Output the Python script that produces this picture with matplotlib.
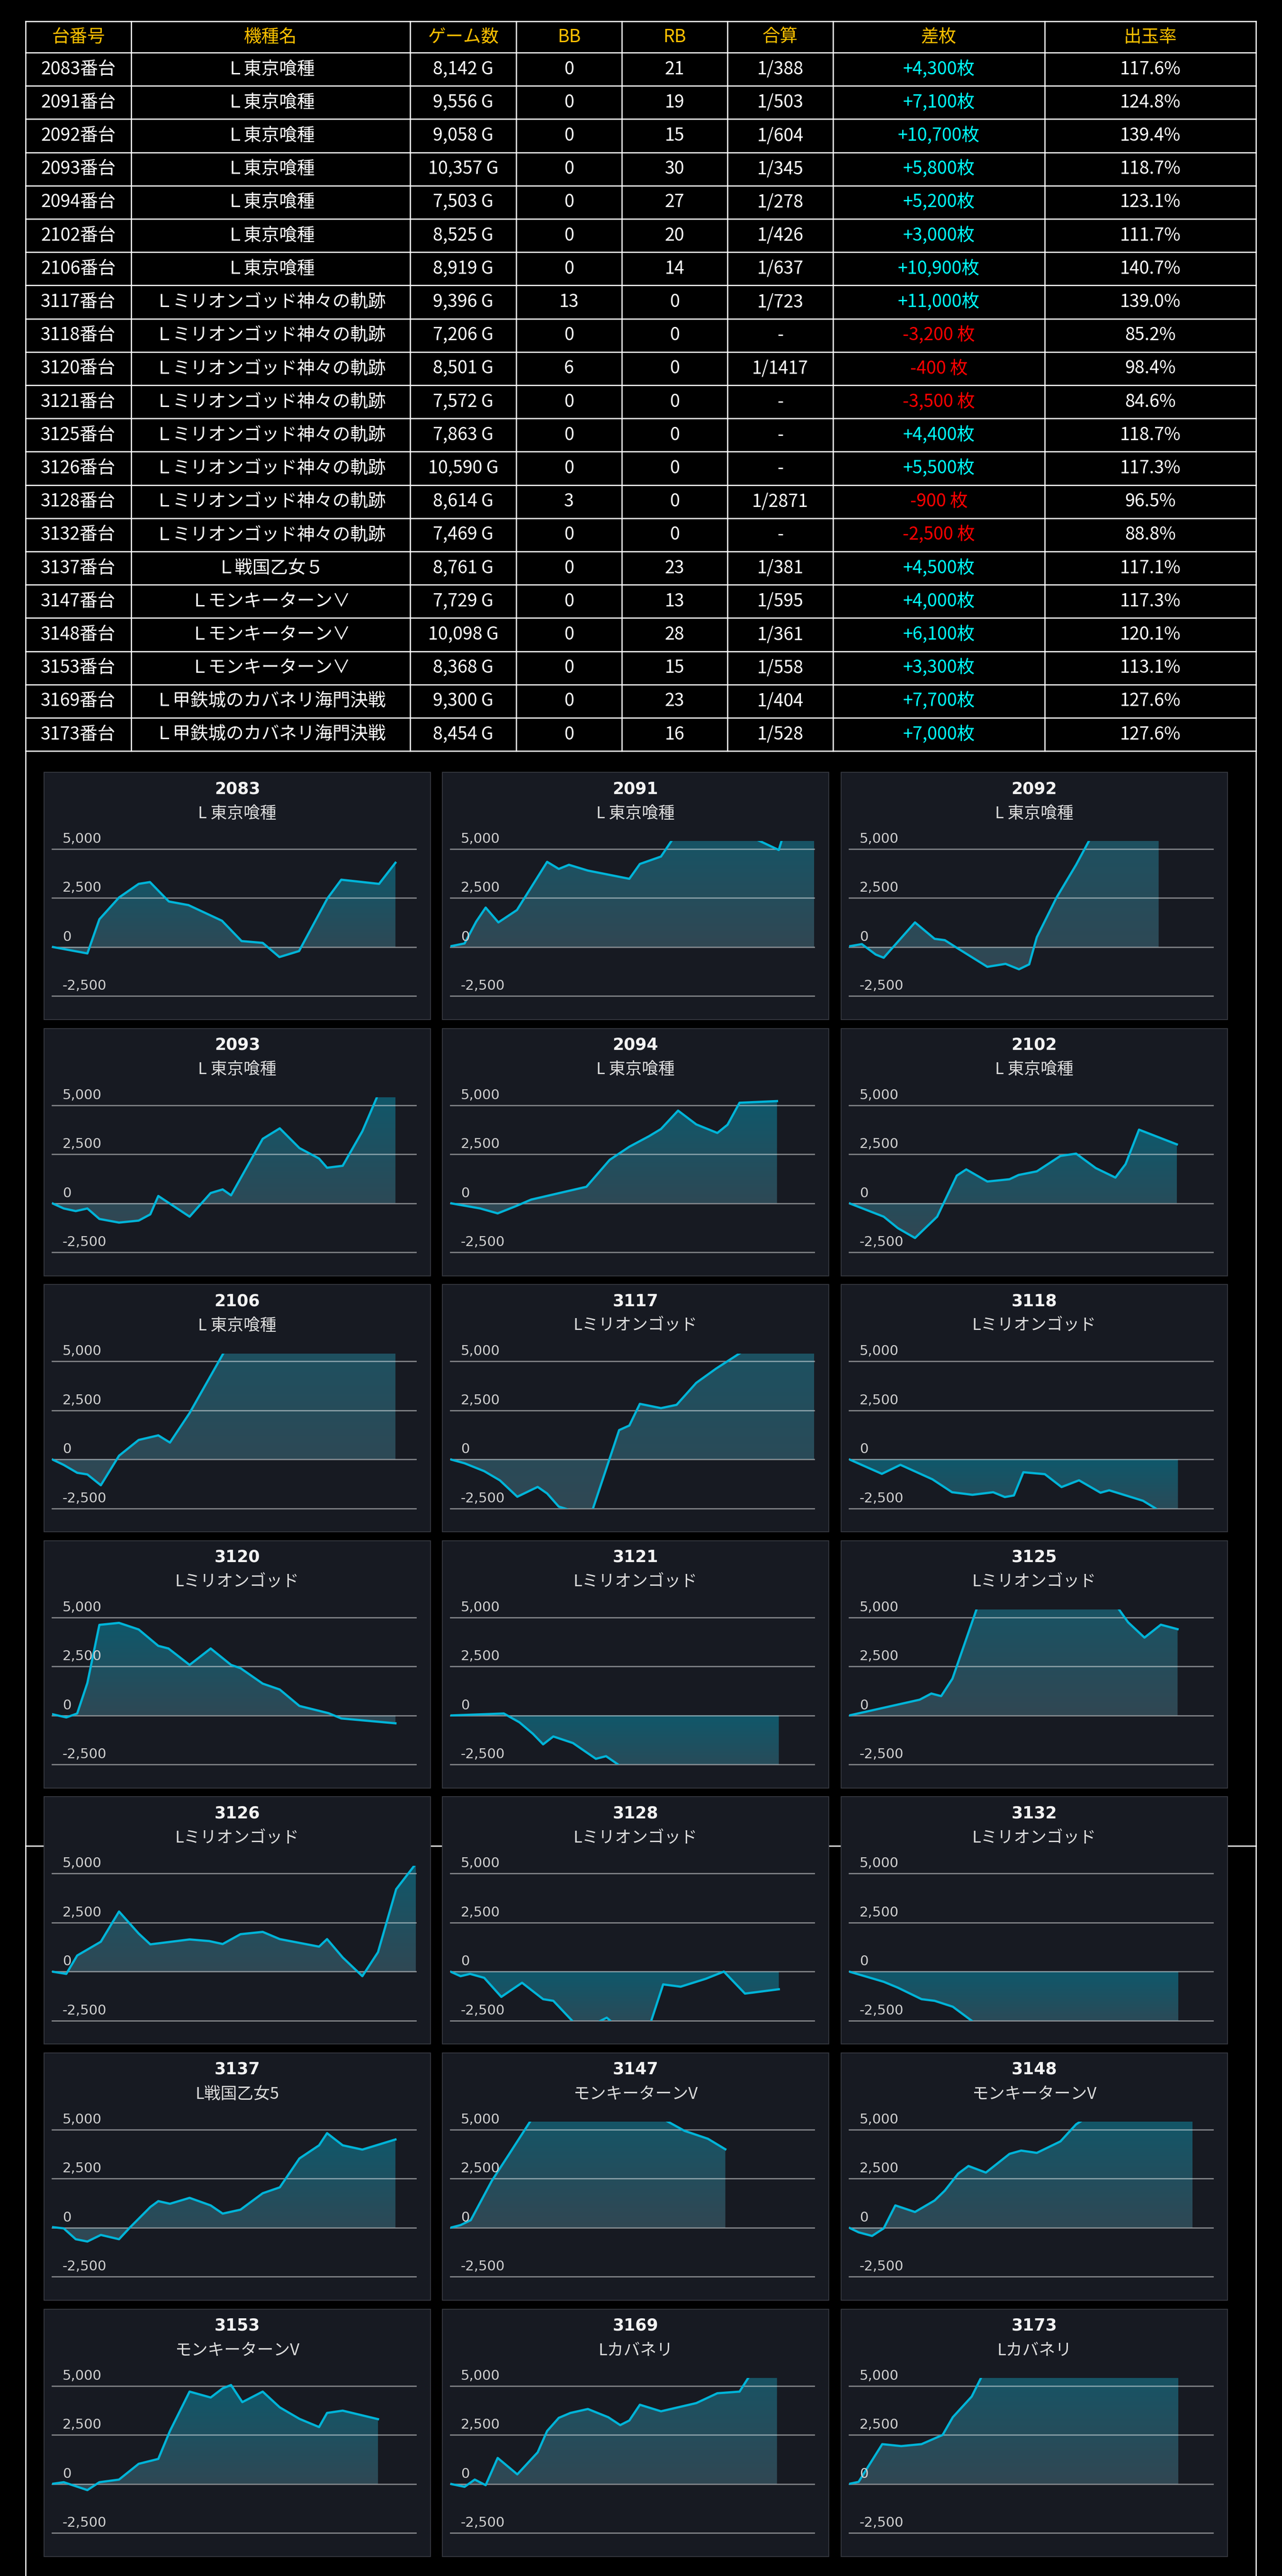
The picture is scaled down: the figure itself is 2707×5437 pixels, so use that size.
import numpy as np
import matplotlib
matplotlib.use('Agg')
import matplotlib.pyplot as plt
from matplotlib.patches import Rectangle, Polygon
from matplotlib.lines import Line2D
from matplotlib.colors import to_rgb

# ---- table data ----
unit_ids = [2083, 2091, 2092, 2093, 2094, 2102, 2106, 3117, 3118, 3120, 3121,
            3125, 3126, 3128, 3132, 3137, 3147, 3148, 3153, 3169, 3173]
machine_names = ['Ｌ東京喰種'] * 7 + ['Ｌミリオンゴッド神々の軌跡'] * 8 + \
                ['Ｌ戦国乙女５'] + ['Ｌモンキーターン∨'] * 3 + ['Ｌ甲鉄城のカバネリ海門決戦'] * 2
games = [8142, 9556, 9058, 10357, 7503, 8525, 8919, 9396, 7206, 8501, 7572,
         7863, 10590, 8614, 7469, 8761, 7729, 10098, 8368, 9300, 8454]
bb = [0, 0, 0, 0, 0, 0, 0, 13, 0, 6, 0, 0, 0, 3, 0, 0, 0, 0, 0, 0, 0]
rb = [21, 19, 15, 30, 27, 20, 14, 0, 0, 0, 0, 0, 0, 0, 0, 23, 13, 28, 15, 23, 16]
combined = ['1/388', '1/503', '1/604', '1/345', '1/278', '1/426', '1/637', '1/723', '-',
            '1/1417', '-', '-', '-', '1/2871', '-', '1/381', '1/595', '1/361', '1/558',
            '1/404', '1/528']
diff = [4300, 7100, 10700, 5800, 5200, 3000, 10900, 11000, -3200, -400, -3500,
        4400, 5500, -900, -2500, 4500, 4000, 6100, 3300, 7700, 7000]
payout = [117.6, 124.8, 139.4, 118.7, 123.1, 111.7, 140.7, 139.0, 85.2, 98.4, 84.6,
          118.7, 117.3, 96.5, 88.8, 117.1, 117.3, 120.1, 113.1, 127.6, 127.6]
headers = ['台番号', '機種名', 'ゲーム数', 'BB', 'RB', '合算', '差枚', '出玉率']

# ---- chart data (x = % of plot width, y = 差枚) ----
panel_names = ['L 東京喰種'] * 7 + ['Lミリオンゴッド'] * 8 + ['L戦国乙女5'] + \
              ['モンキーターンV'] * 3 + ['Lカバネリ'] * 2

x_2083 = [0, 9.7, 13.0, 18.4, 23.8, 26.9, 32.1, 37.5, 46.7, 52.1, 57.9, 62.5, 67.9, 75.7, 79.5, 89.9, 94.4]
y_2083 = [10, -324, 1417, 2528, 3222, 3315, 2324, 2139, 1343, 306, 213, -509, -204, 2482, 3435, 3222, 4300]
x_2091 = [0, 3.9, 7.1, 9.7, 13.2, 18.3, 26.6, 29.8, 32.6, 37.8, 49.2, 52.1, 57.9, 64, 84, 90.3, 92, 100]
y_2091 = [40, 185, 1300, 2013, 1258, 1888, 4346, 3985, 4195, 3901, 3481, 4237, 4615, 6300, 5500, 4950, 6000, 7100]
x_2092 = [0, 3.5, 7.3, 9.5, 18.1, 23.5, 26.3, 30.0, 38.0, 43.0, 46.7, 49.5, 51.6, 57.0, 62.4, 72, 85.1]
y_2092 = [40, 150, -380, -545, 1258, 420, 352, -84, -1007, -856, -1133, -881, 503, 2517, 4195, 7500, 10700]
x_2093 = [0, 3.2, 6.5, 9.7, 13.0, 18.4, 23.8, 27.0, 29.2, 37.8, 43.6, 46.9, 49.2, 57.9, 62.6, 68.0, 73.4,
          75.6, 79.9, 85.3, 90, 94.4]
y_2093 = [0, -268, -402, -268, -803, -988, -887, -569, 368, -686, 519, 703, 402, 3281, 3817, 2812, 2277,
          1808, 1908, 3666, 5700, 5800]
x_2094 = [0, 8.2, 13.0, 18.0, 22.2, 37.4, 43.8, 49.2, 54.6, 57.9, 62.6, 67.6, 73.4, 76.2, 79.5, 89.8]
y_2094 = [0, -268, -519, -151, 184, 837, 2210, 2879, 3415, 3783, 4721, 4018, 3582, 4001, 5122, 5206]
x_2102 = [0, 9.5, 13.4, 18.1, 24.2, 29.6, 32.2, 38.0, 44.1, 46.6, 51.6, 58.1, 62.4, 67.8, 73.2, 76.0, 79.7, 90.1]
y_2102 = [0, -686, -1272, -1774, -686, 1406, 1724, 1105, 1222, 1440, 1624, 2411, 2528, 1791, 1306, 1992, 3750, 3000]
x_2106 = [0, 3.2, 6.9, 9.7, 13.4, 18.4, 23.8, 29.2, 32.4, 37.8, 55, 94.4]
y_2106 = [0, -285, -686, -770, -1322, 184, 988, 1222, 854, 2360, 8000, 10900]
x_3117 = [0, 3.9, 9.3, 13.6, 18.4, 24.0, 26.6, 29.8, 38.5, 46.4, 49.2, 52.1, 57.9, 62.2, 67.6, 73.0, 85, 100]
y_3117 = [0, -201, -603, -1071, -1908, -1406, -1741, -2411, -2900, 1490, 1724, 2829, 2611, 2779, 3900, 4620,
          6060, 11000]
x_3118 = [0, 9.0, 14.1, 22.9, 28.3, 33.9, 39.6, 42.8, 45.3, 47.9, 53.8, 58.4, 63.2, 69.1, 71.5, 80.8, 90.4]
y_3118 = [0, -740, -280, -1019, -1677, -1808, -1677, -1923, -1841, -658, -756, -1414, -1069, -1702, -1578,
          -2113, -3200]
x_3120 = [0, 3.9, 6.9, 9.7, 13.0, 18.4, 23.8, 29.2, 32.0, 37.8, 43.6, 49.2, 51.8, 57.9, 62.6, 68.0, 76.0, 79.5, 94.4]
y_3120 = [67, -100, 100, 1657, 4620, 4721, 4386, 3549, 3415, 2578, 3415, 2578, 2411, 1624, 1322, 485, 117, -151, -400]
x_3121 = [0, 14.7, 19.0, 22.7, 25.5, 28.3, 33.7, 40.0, 42.8, 50, 90.3]
y_3121 = [0, 100, -352, -937, -1473, -1071, -1406, -2210, -2076, -3000, -3500]
x_3125 = [0, 19.4, 22.6, 25.3, 28.4, 38, 55, 70, 76.7, 81.2, 85.7, 90.3]
y_3125 = [0, 805, 1118, 986, 1874, 7000, 7800, 6500, 4751, 3970, 4628, 4400]
x_3126 = [0, 3.9, 6.9, 13.4, 18.4, 23.8, 27.0, 37.8, 43.2, 46.9, 51.8, 57.9, 62.6, 73.4, 75.6, 79.9, 85.3,
          89.6, 94.6, 100]
y_3126 = [0, -117, 820, 1523, 3063, 1942, 1389, 1640, 1557, 1406, 1908, 2025, 1657, 1272, 1657, 720, -234,
          988, 4202, 5500]
x_3128 = [0, 2.8, 5.4, 9.3, 14.0, 19.7, 25.5, 28.3, 36, 43, 47, 54, 58.5, 63.3, 70.2, 75.2, 81.0, 90.3]
y_3128 = [0, -234, -117, -318, -1289, -569, -1406, -1490, -3000, -2350, -3000, -3200, -653, -770, -368, 0,
          -1122, -900]
x_3132 = [0, 9.5, 13.4, 19.9, 23.5, 28.5, 38, 70, 90.5]
y_3132 = [0, -519, -820, -1406, -1490, -1791, -3100, -2900, -2560]
x_3137 = [0, 3.2, 6.5, 9.7, 13.4, 18.4, 21.6, 27.0, 29.2, 32.4, 37.8, 43.6, 46.9, 51.8, 57.9, 62.6, 68.0,
          73.4, 75.6, 79.9, 85.3, 94.4]
y_3137 = [33, -33, -586, -703, -368, -586, 50, 1055, 1356, 1222, 1523, 1138, 720, 921, 1758, 2059, 3532,
          4202, 4821, 4202, 3984, 4500]
x_3147 = [0, 2.8, 5.6, 11.4, 16.2, 25, 45, 56, 64.4, 70.8, 75.6]
y_3147 = [0, 134, 385, 2394, 3766, 6300, 6600, 5800, 4938, 4537, 4000]
x_3148 = [0, 2.6, 6.3, 9.5, 12.7, 18.1, 23.5, 26.3, 30.0, 32.8, 37.6, 44.1, 47.3, 51.6, 58.1, 62.4, 66, 80, 94.4]
y_3148 = [0, -234, -418, -33, 1138, 803, 1389, 1892, 2762, 3147, 2812, 3766, 3934, 3817, 4403, 5273, 5700,
          6200, 6100]
x_3153 = [0, 3.2, 9.7, 13.0, 18.4, 23.8, 29.2, 32.4, 37.8, 43.6, 46.9, 49.2, 52.3, 57.9, 62.6, 68.0, 73.4,
          75.6, 79.9, 89.6]
y_3153 = [0, 84, -318, 84, 218, 1021, 1272, 2695, 4704, 4403, 4871, 5039, 4168, 4704, 3900, 3315, 2896,
          3616, 3733, 3300]
x_3169 = [0, 3.9, 6.7, 9.7, 13.0, 18.4, 24.0, 26.6, 29.8, 33.0, 37.8, 43.4, 46.7, 49.2, 52.1, 57.9, 67.6,
          73.4, 79.5, 89.8]
y_3169 = [0, -151, 218, -67, 1322, 485, 1607, 2695, 3365, 3616, 3817, 3398, 2996, 3231, 4034, 3700, 4118,
          4620, 4704, 7700]
x_3173 = [0, 2.6, 9.1, 14.3, 19.9, 25.7, 28.5, 33.7, 40, 60, 90.5]
y_3173 = [0, 100, 2025, 1925, 2025, 2494, 3398, 4453, 6800, 7200, 7000]

series = [(x_2083, y_2083), (x_2091, y_2091), (x_2092, y_2092), (x_2093, y_2093), (x_2094, y_2094),
          (x_2102, y_2102), (x_2106, y_2106), (x_3117, y_3117), (x_3118, y_3118), (x_3120, y_3120),
          (x_3121, y_3121), (x_3125, y_3125), (x_3126, y_3126), (x_3128, y_3128), (x_3132, y_3132),
          (x_3137, y_3137), (x_3147, y_3147), (x_3148, y_3148), (x_3153, y_3153), (x_3169, y_3169),
          (x_3173, y_3173)]
grid_ticks = [5000, 2500, 0, -2500]

# ---- figure in pixel units ----
W, H = 2707, 5437
fig = plt.figure(figsize=(W / 100, H / 100), dpi=100, facecolor='black')
bg = fig.add_axes([0, 0, 1, 1])
bg.set_xlim(0, W)
bg.set_ylim(H, 0)
bg.axis('off')

JP = ['Noto Sans CJK JP', 'DejaVu Sans']
col_edges = [54, 277, 866, 1090, 1313, 1536, 1759, 2206, 2652]
tbl_top, head_bot, row_h = 45, 111, 70.2
n_rows = len(unit_ids)
row_edges = [tbl_top, head_bot] + [head_bot + row_h * (i + 1) for i in range(n_rows)]
tbl_bot = row_edges[-1]

line_kw = dict(color='white', lw=1.8, zorder=1, solid_capstyle='projecting')
for y in row_edges:
    bg.add_line(Line2D([col_edges[0], col_edges[-1]], [y, y], **line_kw))
for x in col_edges[1:-1]:
    bg.add_line(Line2D([x, x], [tbl_top, tbl_bot], **line_kw))
for x in (col_edges[0], col_edges[-1]):
    bg.add_line(Line2D([x, x], [tbl_top, H], **line_kw))
bg.add_line(Line2D([col_edges[0], col_edges[-1]], [3896, 3896], **line_kw))

cx = [(a + b) / 2 for a, b in zip(col_edges[:-1], col_edges[1:])]
for j, h in enumerate(headers):
    bg.text(cx[j], (tbl_top + head_bot) / 2, h, ha='center', va='center', fontsize=27,
            color='#ffc000', family=JP)
for i in range(n_rows):
    cy = head_bot + row_h * (i + 0.5)
    d = diff[i]
    dtxt = f'+{d:,}枚' if d > 0 else f'{d:,} 枚'
    cells = [f'{unit_ids[i]}番台', machine_names[i], f'{games[i]:,} G', str(bb[i]), str(rb[i]),
             combined[i], dtxt, f'{payout[i]:.1f}%']
    for j, s in enumerate(cells):
        col = 'white'
        if j == 6:
            col = '#00ffff' if d > 0 else '#ff0000'
        bg.text(cx[j], cy, s, ha='center', va='center', fontsize=27, color=col, family=JP)

# ---- panels ----
panel_x = [93, 934, 1776]
panel_y0, panel_step = 1630, 540.6
pw, ph = 816, 522
ax_l, ax_w = 17, 768
ax_top, ax_bot = 145.4, 472.4
ylo, yhi = -2500, 5400
top_col = np.array(to_rgb('#0f586b'))
bot_col = np.array(to_rgb('#314753'))

for k, (xs, ys) in enumerate(series):
    r, c = divmod(k, 3)
    px, py = panel_x[c], panel_y0 + r * panel_step
    bg.add_patch(Rectangle((px, py), pw, ph, facecolor='#171a22', edgecolor='#3a3d45', lw=1.2, zorder=3))
    bg.text(px + pw / 2, py + 35, str(unit_ids[k]), ha='center', va='center', fontsize=25,
            weight='bold', color='#f2f2f2', family='DejaVu Sans', zorder=4)
    bg.text(px + pw / 2, py + 87, panel_names[k], ha='center', va='center', fontsize=25,
            color='#dcdcdc', family=JP, zorder=4)

    ax = fig.add_axes([(px + ax_l) / W, 1 - (py + ax_bot) / H, ax_w / W, (ax_bot - ax_top) / H])
    ax.set_facecolor('none')
    ax.axis('off')

    xs = np.asarray(xs, float)
    ys = np.asarray(ys, float)
    hi, lo = max(ys.max(), 0), min(ys.min(), 0)
    vhi, vlo = min(hi, yhi), max(lo, ylo)
    yy = np.linspace(vhi, vlo, 256)
    t = ((hi - yy) / (hi - lo))[:, None]
    img = np.ones((256, 2, 4))
    img[:, :, :3] = ((1 - t) * top_col + t * bot_col)[:, None, :]
    im = ax.imshow(img, extent=(xs[0], xs[-1], vlo, vhi), aspect='auto', origin='upper',
                   interpolation='bilinear', zorder=1)
    poly = Polygon(np.column_stack([np.r_[xs[0], xs, xs[-1]], np.r_[0, ys, 0]]), closed=True,
                   facecolor='none', edgecolor='none', transform=ax.transData)
    ax.add_patch(poly)
    im.set_clip_path(poly)

    for v in grid_ticks:
        ax.axhline(v, color='white', alpha=0.45, lw=2, zorder=2, clip_on=False)
        ax.annotate(f'{v:,}', xy=(0, v), xycoords=ax.get_yaxis_transform(),
                    xytext=(22 * 0.72, 13 * 0.72), textcoords='offset points',
                    ha='left', va='baseline', fontsize=21, color='#cfcfcf',
                    family='DejaVu Sans', annotation_clip=False, zorder=4)
    ax.plot(xs, ys, color='#00b4d8', lw=3.4, zorder=3, solid_joinstyle='round')
    ax.set_xlim(0, 100)
    ax.set_ylim(ylo, yhi)

fig.savefig('out.png', dpi=100, facecolor='black')
